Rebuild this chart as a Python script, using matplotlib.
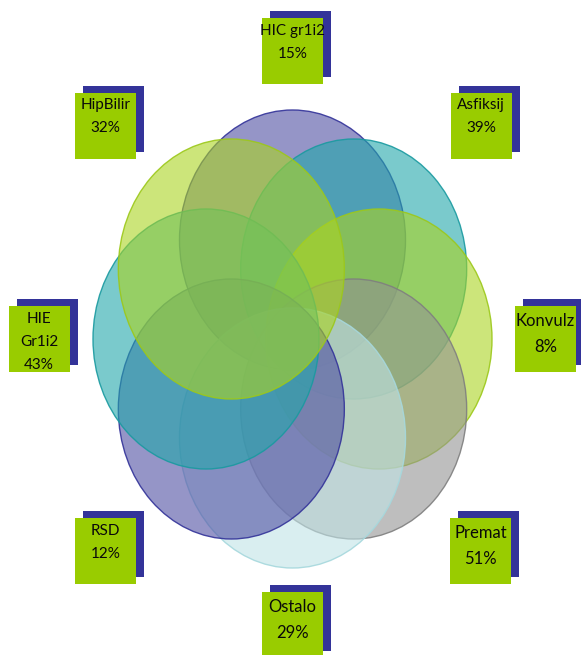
import numpy as np
import matplotlib
matplotlib.use("Agg")
import matplotlib.pyplot as plt
from matplotlib.patches import Ellipse, Rectangle

# Data: clockwise from the top
labels = ["HIC gr1i2", "Asfiksij", "Konvulz", "Premat", "Ostalo", "RSD", "HIE\nGr1i2", "HipBilir"]
percents = [15, 39, 8, 51, 29, 12, 43, 32]
font_sizes = [11, 11, 12, 12, 12, 11, 11, 11]

face_colors = ["#4E4EA3", "#21A7AA", "#AAD421", "#939393", "#C0E3E6", "#4E4EA3", "#21A7AA", "#AAD421"]
edge_colors = ["#333399", "#1A9AA0", "#9CC81A", "#7F7F7F", "#A6D8DD", "#333399", "#1A9AA0", "#9CC81A"]

W, H = 581, 655
fig = plt.figure(figsize=(W / 100, H / 100), dpi=100)
ax = fig.add_axes([0, 0, 1, 1])
ax.set_xlim(0, W)
ax.set_ylim(H, 0)
ax.axis("off")

cx, cy = 292.5, 339
ring_rx, ring_ry = 86.5, 99
ell_w, ell_h = 226, 260

# box centres on the outer ring
box_centres = [(292.5, 51), (481, 125.5), (545.5, 339), (480.5, 551),
               (292.5, 624.5), (105.5, 551), (39, 339), (105.5, 125.5)]
box_w, box_h = 61, 66
shadow_dx, shadow_dy = 8, -7

n = len(labels)
for i in range(n):
    ang = np.pi / 2 - 2 * np.pi * i / n
    ex = cx + ring_rx * np.cos(ang)
    ey = cy - ring_ry * np.sin(ang)
    ax.add_patch(Ellipse((ex, ey), ell_w, ell_h, facecolor=face_colors[i],
                         alpha=0.6, edgecolor="none", zorder=2 + i))
    ax.add_patch(Ellipse((ex, ey), ell_w, ell_h, facecolor="none",
                         edgecolor=edge_colors[i], lw=1.0, alpha=0.9, zorder=2 + i))

for i in range(n):
    bx, by = box_centres[i]
    left, top = bx - box_w / 2, by - box_h / 2
    ax.add_patch(Rectangle((left + shadow_dx, top + shadow_dy), box_w, box_h,
                           facecolor="#333399", edgecolor="none", zorder=20))
    ax.add_patch(Rectangle((left, top), box_w, box_h,
                           facecolor="#99CC00", edgecolor="none", zorder=21))
    lines = labels[i].split("\n") + [f"{percents[i]}%"]
    big = font_sizes[i] > 11
    first = 13.5 if big else 11.5
    step = 26.5 if big else 23
    for j, line in enumerate(lines):
        ax.text(bx, top + first + j * step, line, ha="center", va="center_baseline",
                fontsize=font_sizes[i], family=["Lato", "DejaVu Sans"],
                color="#0A0A0A", zorder=22)

fig.savefig("out.png", dpi=100)
